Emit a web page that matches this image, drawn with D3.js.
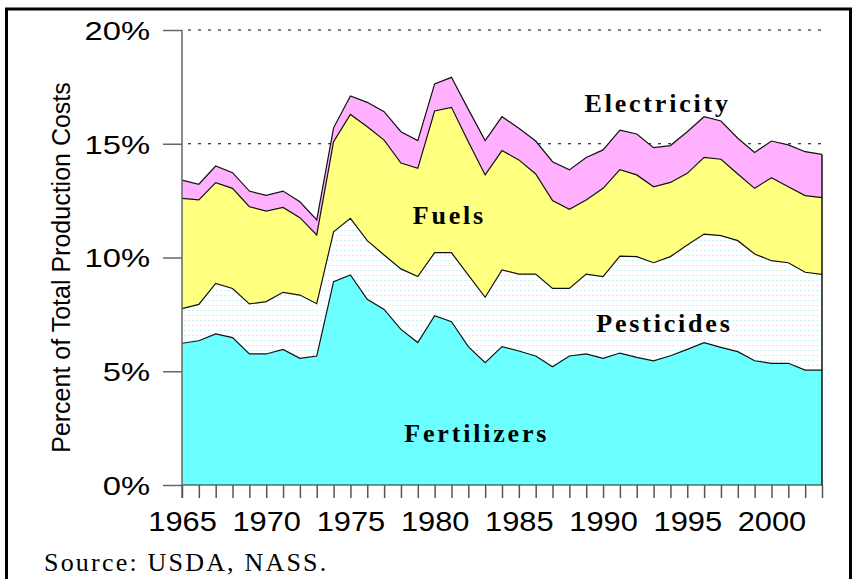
<!DOCTYPE html>
<html>
<head>
<meta charset="utf-8">
<script src="https://cdn.jsdelivr.net/npm/d3@7"></script>
<style>
  html, body { margin: 0; padding: 0; background: #fff; }
  svg { display: block; }
</style>
</head>
<body>
<svg id="chart" width="860" height="579"></svg>
<script>
const years = d3.range(1965, 2004);

// shares of total production costs, percent
const fertilizers = [6.23, 6.34, 6.64, 6.48, 5.76, 5.76, 5.96, 5.57, 5.67, 8.94,
  9.23, 8.16, 7.72, 6.84, 6.26, 7.44, 7.18, 6.08, 5.38, 6.08,
  5.89, 5.67, 5.20, 5.67, 5.76, 5.57, 5.80, 5.61, 5.46, 5.68,
  5.96, 6.26, 6.05, 5.86, 5.46, 5.35, 5.35, 5.05, 5.05];
const pesticides = [1.52, 1.60, 2.22, 2.16, 2.20, 2.30, 2.51, 2.78, 2.30, 2.19,
  2.49, 2.58, 2.39, 2.66, 2.90, 2.77, 3.03, 3.15, 2.87, 3.37,
  3.38, 3.60, 3.44, 2.97, 3.51, 3.59, 4.26, 4.43, 4.31, 4.36,
  4.59, 4.77, 4.91, 4.88, 4.69, 4.51, 4.42, 4.30, 4.21];
const fuels = [4.85, 4.59, 4.43, 4.40, 4.27, 3.98, 3.73, 3.40, 3.02, 3.96,
  4.57, 5.01, 5.05, 4.65, 4.76, 6.23, 6.39, 5.86, 5.38, 5.25,
  5.02, 4.40, 3.86, 3.48, 3.26, 3.88, 3.80, 3.59, 3.34, 3.26,
  3.15, 3.37, 3.36, 2.93, 2.89, 3.65, 3.34, 3.37, 3.37];
const electricity = [0.80, 0.69, 0.73, 0.69, 0.69, 0.69, 0.72, 0.70, 0.66, 0.61,
  0.81, 1.07, 1.25, 1.38, 1.22, 1.19, 1.32, 1.42, 1.51, 1.49,
  1.39, 1.45, 1.71, 1.73, 1.87, 1.69, 1.74, 1.80, 1.72, 1.62,
  1.83, 1.79, 1.68, 1.57, 1.58, 1.61, 1.84, 1.93, 1.90];

const yTicks = [0, 5, 10, 15, 20];
const xLabelYears = [1965, 1970, 1975, 1980, 1985, 1990, 1995, 2000];
const seriesNames = ["Fertilizers", "Pesticides", "Fuels", "Electricity"];

const rows = years.map((yr, i) => ({
  year: yr,
  Fertilizers: fertilizers[i],
  Pesticides: pesticides[i],
  Fuels: fuels[i],
  Electricity: electricity[i]
}));

const svg = d3.select("#chart");

const x = d3.scaleLinear().domain([1965, 2003]).range([182, 822]);
const y = d3.scaleLinear().domain([0, 20]).range([485, 30]);

const defs = svg.append("defs");
const pat = defs.append("pattern").attr("id", "pestPat")
  .attr("patternUnits", "userSpaceOnUse").attr("width", 4).attr("height", 5);
pat.append("rect").attr("width", 4).attr("height", 5).attr("fill", "#fff");
pat.append("rect").attr("x", 0).attr("y", 0).attr("width", 2).attr("height", 1).attr("fill", "#c4f6fb");

// outer frame
svg.append("rect").attr("x", 6.5).attr("y", 9).attr("width", 844).attr("height", 600)
  .attr("fill", "none").attr("stroke", "#000").attr("stroke-width", 3);

// dotted gridlines (hidden under the areas where they overlap)
svg.append("g").selectAll("line").data(yTicks.filter(d => d > 0)).enter().append("line")
  .attr("x1", x(1965) + 6).attr("x2", x(2003))
  .attr("y1", d => y(d)).attr("y2", d => y(d))
  .attr("stroke", "#000").attr("stroke-width", 1)
  .attr("stroke-dasharray", "3,7");

const stack = d3.stack().keys(seriesNames);
const layers = stack(rows);
const fills = { Fertilizers: "#6cffff", Pesticides: "url(#pestPat)", Fuels: "#ffff80", Electricity: "#ffb0ff" };

const area = d3.area().x(d => x(d.data.year)).y0(d => y(d[0])).y1(d => y(d[1]));
const topLine = d3.line().x(d => x(d.data.year)).y(d => y(d[1]));

svg.append("g").selectAll("path").data(layers).enter().append("path")
  .attr("d", area).attr("fill", d => fills[d.key]);

svg.append("g").selectAll("path").data(layers).enter().append("path")
  .attr("d", topLine).attr("fill", "none").attr("stroke", "#111").attr("stroke-width", 1.2);

// right edge + baseline of the stack
const last = layers[layers.length - 1][rows.length - 1];
svg.append("line").attr("x1", x(2003)).attr("x2", x(2003)).attr("y1", y(last[1])).attr("y2", y(0))
  .attr("stroke", "#111").attr("stroke-width", 1.5);
svg.append("line").attr("x1", x(1965)).attr("x2", x(2003)).attr("y1", y(0)).attr("y2", y(0))
  .attr("stroke", "#222").attr("stroke-width", 1.2);

// y axis
const yAxis = svg.append("g").attr("transform", "translate(" + x(1965) + ",0)")
  .call(d3.axisLeft(y).tickValues(yTicks).tickFormat(d => d + "%").tickSize(19).tickPadding(13));
yAxis.select(".domain").remove();
yAxis.selectAll(".tick line").attr("stroke", "#666").attr("stroke-width", 1.5);
yAxis.selectAll(".tick text").attr("font-family", "Liberation Sans, Arial, sans-serif")
  .attr("font-size", "26px").attr("fill", "#000").attr("dy", "0.36em")
  .attr("x", -32 / 1.26).attr("transform", "scale(1.26,1)");
svg.append("line").attr("x1", x(1965)).attr("x2", x(1965)).attr("y1", y(20)).attr("y2", y(0) + 13)
  .attr("stroke", "#666").attr("stroke-width", 1.5);

// x axis: a tick for every year, labels every five
const xTicks = svg.append("g").attr("transform", "translate(0," + y(0) + ")")
  .call(d3.axisBottom(x).tickValues(years).tickFormat("").tickSize(13));
xTicks.select(".domain").remove();
xTicks.selectAll(".tick line").attr("stroke", "#555").attr("stroke-width", 1.5);

const xLabels = svg.append("g").attr("transform", "translate(0," + y(0) + ")")
  .call(d3.axisBottom(x).tickValues(xLabelYears).tickFormat(d3.format("d")).tickSize(0).tickPadding(26));
xLabels.select(".domain").remove();
xLabels.selectAll(".tick text").attr("font-family", "Liberation Sans, Arial, sans-serif")
  .attr("font-size", "28px").attr("fill", "#000").attr("transform", "scale(1.1,1)");

// y axis title
svg.append("text")
  .attr("transform", "translate(70," + ((y(0) + y(20)) / 2 + 10) + ") rotate(-90)")
  .attr("text-anchor", "middle")
  .attr("font-family", "Liberation Sans Narrow, Arial Narrow, sans-serif")
  .attr("font-size", "25px")
  .text("Percent of Total Production Costs");

// series labels
const seriesLabels = [
  { name: "Electricity", yr: 1988.9, v: 16.4 },
  { name: "Fuels", yr: 1978.7, v: 11.47 },
  { name: "Pesticides", yr: 1989.6, v: 6.73 },
  { name: "Fertilizers", yr: 1978.2, v: 1.89 }
];
svg.append("g").selectAll("text").data(seriesLabels).enter().append("text")
  .attr("x", d => x(d.yr)).attr("y", d => y(d.v))
  .attr("font-family", "Liberation Serif, Times New Roman, serif")
  .attr("font-weight", "bold").attr("font-size", "26px").attr("letter-spacing", "2.8px")
  .attr("fill", "#000")
  .text(d => d.name);

// source note
svg.append("text").attr("x", 44).attr("y", 571)
  .attr("font-family", "Liberation Serif, Times New Roman, serif")
  .attr("font-size", "26px").attr("letter-spacing", "2.2px")
  .text("Source: USDA, NASS.");
</script>
</body>
</html>
